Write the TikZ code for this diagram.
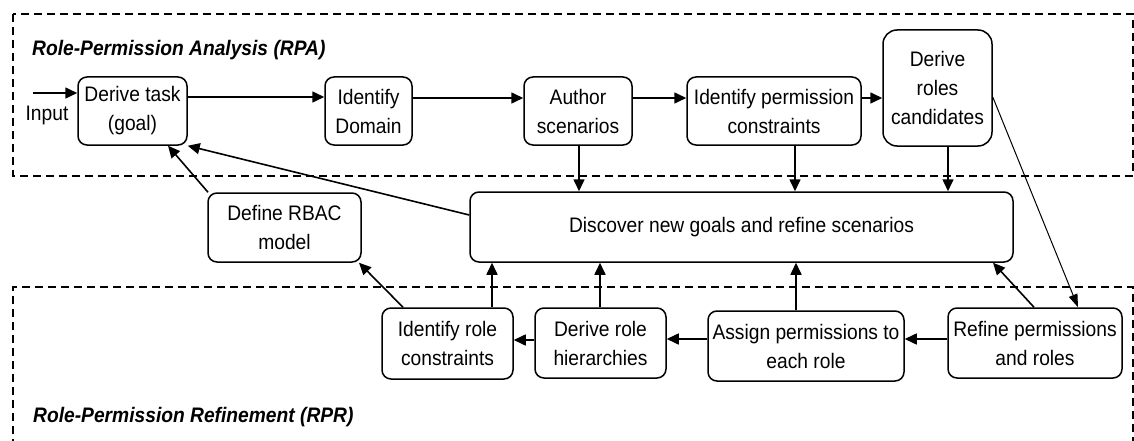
\documentclass[tikz,border=0pt]{standalone}
\usepackage{fontspec}
\setmainfont{Liberation Sans}[FakeStretch=0.915]
\usetikzlibrary{arrows.meta,calc}
\begin{document}
\begin{tikzpicture}[x=1pt,y=-1pt,
  box/.style={draw, line width=1.5pt, rounded corners=9pt, align=center, inner sep=0pt,
    font=\fontsize{21}{29}\selectfont},
  arr/.style={-{Triangle[length=12pt,width=11pt]}, line width=1.6pt},
  thinarr/.style={-{Triangle[length=13pt,width=9pt]}, line width=1pt},
  region/.style={draw, line width=1.4pt, dash pattern=on 8pt off 5pt},
  ttl/.style={anchor=west, inner sep=0pt, font=\fontsize{21}{25}\selectfont\bfseries\itshape}]
\useasboundingbox (0,0) rectangle (1134,441);
% regions
\draw[region] (13,14) rectangle (1133,176);
\draw[region] (13,460) -- (13,287) -- (1133,287) -- (1133,460);
\node[ttl] (tA) at (32,50) {Role-Permission Analysis (RPA)};
\node[ttl] (tR) at (33,417) {Role-Permission Refinement (RPR)};
% nodes
\node[box, minimum width=109pt, minimum height=68pt] (task) at (132.5,111) {Derive task\\(goal)};
\node[box, minimum width=87pt, minimum height=68pt] (domain) at (368.5,111) {Identify\\Domain};
\node[box, minimum width=108pt, minimum height=68pt] (author) at (578,111) {Author\\scenarios};
\node[box, minimum width=174pt, minimum height=68pt] (perm) at (774,111) {Identify permission\\constraints};
\node[box, rounded corners=14pt, minimum width=109pt, minimum height=116pt] (cand) at (937.5,88) {Derive\\roles\\candidates};
\node[box, minimum width=543pt, minimum height=70pt] (disc) at (741.5,227) {Discover new goals and refine scenarios};
\node[box, minimum width=153pt, minimum height=69pt] (rbac) at (284.5,227.5) {Define RBAC\\model};
\node[box, minimum width=131pt, minimum height=71pt] (irc) at (447.5,343.5) {Identify role\\constraints};
\node[box, minimum width=131pt, minimum height=70pt] (drh) at (600.5,343) {Derive role\\hierarchies};
\node[box, minimum width=196pt, minimum height=70pt] (assign) at (806,346) {Assign permissions to\\each role};
\node[box, minimum width=174pt, minimum height=70pt] (refine) at (1035,343) {Refine permissions\\and roles};
% input
\coordinate (in) at (33,93);
\node[inner sep=0pt, font=\fontsize{21}{25}\selectfont] (inlab) at (47,115) {Input};
\draw[arr] (in) -- (in -| task.west);
% top row
\draw[arr] (task.east |- 0,97) -- (domain.west |- 0,97);
\draw[arr] (domain.east |- 0,98) -- (author.west |- 0,98);
\draw[arr] (author.east |- 0,98) -- (perm.west |- 0,98);
\draw[arr] (perm.east |- 0,98) -- (cand.west |- 0,98);
% down into discover
\draw[arr] (author.south -| 579,0) -- (disc.north -| 579,0);
\draw[arr] (perm.south -| 795,0) -- (disc.north -| 795,0);
\draw[arr] (cand.south -| 948,0) -- (disc.north -| 948,0);
% diagonal thin
\draw[thinarr] (cand.east |- 0,97) -- (refine.north -| 1078,0);
% refine to discover
\draw[arr] (refine.north -| 1034,0) -- (disc.south -| 993,0);
% bottom row
\draw[arr] (refine.west |- 0,339) -- (assign.east |- 0,339);
\draw[arr] (assign.west |- 0,339) -- (drh.east |- 0,339);
\draw[arr] (drh.west |- 0,340) -- (irc.east |- 0,340);
% up into discover
\draw[arr] (assign.north -| 796,0) -- (disc.south -| 796,0);
\draw[arr] (drh.north -| 600,0) -- (disc.south -| 600,0);
\draw[arr] (irc.north -| 492,0) -- (disc.south -| 492,0);
% to rbac and task
\draw[arr] (irc.north -| 403,0) -- (rbac.south -| 359,0);
\draw[arr] (rbac.north -| 208,0) -- (task.south -| 168,0);
\draw[arr] (disc.west |- 0,215) -- (task.south east);
\end{tikzpicture}
\end{document}
